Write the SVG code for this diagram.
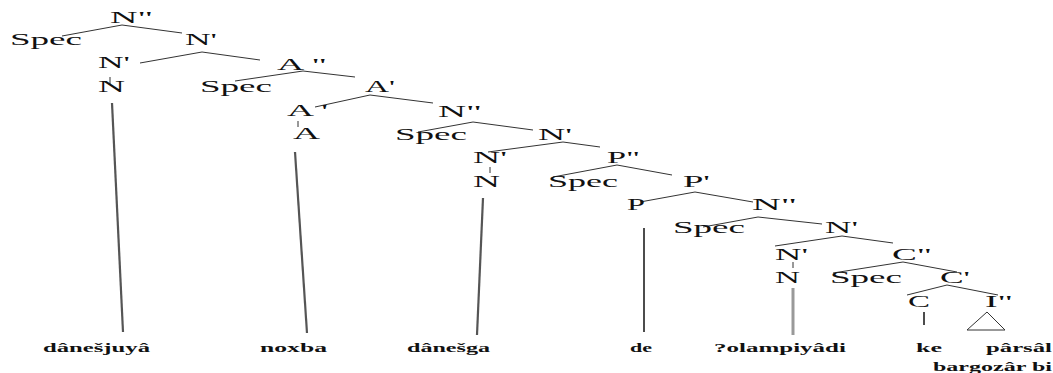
<svg xmlns="http://www.w3.org/2000/svg" width="1053" height="373" viewBox="0 0 1053 373">
<style>
.l{font-family:"Liberation Serif","Times New Roman",serif;font-size:17px;fill:#111}
.w{font-family:"Liberation Serif","Times New Roman",serif;font-size:12px;font-weight:bold;fill:#111}
.e{stroke:#333;stroke-width:1;fill:none}
.v{stroke:#555;stroke-width:2.2;fill:none}
.p{stroke:#111;stroke-width:1.5;fill:none}
.g{stroke:#999;stroke-width:3;fill:none}
</style>
<rect width="1053" height="373" fill="#fff"/>
<g id="connectors">
<polyline class="e" points="62,36 122,25 182,33"/>
<polyline class="e" points="140,63 202,52 260,60"/>
<line class="e" x1="110" y1="77" x2="110" y2="84"/>
<polyline class="e" points="235,81 303,71 355,77"/>
<polyline class="e" points="315,107 370,95 433,103"/>
<line class="e" x1="298" y1="121" x2="298" y2="127" stroke-width="2"/>
<polyline class="e" points="418,132 473,122 533,130"/>
<polyline class="e" points="488,152 563,142 600,147"/>
<line class="e" x1="490" y1="167" x2="490" y2="173"/>
<polyline class="e" points="553,177 617,165 672,175"/>
<polyline class="e" points="640,202 695,192 753,202"/>
<polyline class="e" points="703,227 758,217 822,224"/>
<polyline class="e" points="775,246 842,236 893,243"/>
<line class="e" x1="793" y1="262" x2="793" y2="268"/>
<polyline class="e" points="833,273 903,262 957,272"/>
<polyline class="e" points="907,295 947,285 998,295"/>
<line class="p" x1="924" y1="312" x2="924" y2="325"/>
<polygon class="e" points="987,312 967,330 1005,330"/>
<line class="v" x1="112" y1="103" x2="123" y2="332"/>
<line class="v" x1="295" y1="152" x2="307" y2="333"/>
<line class="v" x1="483" y1="198" x2="477" y2="335"/>
<line class="p" x1="644" y1="228" x2="644" y2="332"/>
<line class="g" x1="793" y1="288" x2="793" y2="335"/>
</g>
<g id="n1"><text class="l" x="110" y="23" textLength="43" lengthAdjust="spacingAndGlyphs">N"</text></g>
<g id="n2"><text class="l" x="10" y="45" textLength="72" lengthAdjust="spacingAndGlyphs">Spec</text></g>
<g id="n3"><text class="l" x="185" y="45" textLength="32" lengthAdjust="spacingAndGlyphs">N'</text></g>
<g id="n4"><text class="l" x="98" y="68" textLength="32" lengthAdjust="spacingAndGlyphs">N'</text></g>
<g id="n5"><text class="l" x="98" y="92" textLength="27" lengthAdjust="spacingAndGlyphs">N</text></g>
<g id="n6"><text class="l" x="277" y="70" textLength="50" lengthAdjust="spacingAndGlyphs">A "</text></g>
<g id="n7"><text class="l" x="200" y="92" textLength="72" lengthAdjust="spacingAndGlyphs">Spec</text></g>
<g id="n8"><text class="l" x="365" y="92" textLength="30" lengthAdjust="spacingAndGlyphs">A'</text></g>
<g id="n9"><text class="l" x="287" y="116" textLength="41" lengthAdjust="spacingAndGlyphs">A '</text></g>
<g id="n10"><text class="l" x="293" y="139" textLength="27" lengthAdjust="spacingAndGlyphs">A</text></g>
<g id="n11"><text class="l" x="438" y="117" textLength="44" lengthAdjust="spacingAndGlyphs">N"</text></g>
<g id="n12"><text class="l" x="395" y="140" textLength="72" lengthAdjust="spacingAndGlyphs">Spec</text></g>
<g id="n13"><text class="l" x="538" y="140" textLength="34" lengthAdjust="spacingAndGlyphs">N'</text></g>
<g id="n14"><text class="l" x="473" y="163" textLength="34" lengthAdjust="spacingAndGlyphs">N'</text></g>
<g id="n15"><text class="l" x="473" y="187" textLength="27" lengthAdjust="spacingAndGlyphs">N</text></g>
<g id="n16"><text class="l" x="607" y="163" textLength="33" lengthAdjust="spacingAndGlyphs">P"</text></g>
<g id="n17"><text class="l" x="548" y="187" textLength="70" lengthAdjust="spacingAndGlyphs">Spec</text></g>
<g id="n18"><text class="l" x="683" y="187" textLength="27" lengthAdjust="spacingAndGlyphs">P'</text></g>
<g id="n19"><text class="l" x="627" y="210" textLength="18" lengthAdjust="spacingAndGlyphs">P</text></g>
<g id="n20"><text class="l" x="752" y="210" textLength="45" lengthAdjust="spacingAndGlyphs">N"</text></g>
<g id="n21"><text class="l" x="673" y="233" textLength="72" lengthAdjust="spacingAndGlyphs">Spec</text></g>
<g id="n22"><text class="l" x="825" y="233" textLength="33" lengthAdjust="spacingAndGlyphs">N'</text></g>
<g id="n23"><text class="l" x="775" y="260" textLength="33" lengthAdjust="spacingAndGlyphs">N'</text></g>
<g id="n24"><text class="l" x="775" y="283" textLength="25" lengthAdjust="spacingAndGlyphs">N</text></g>
<g id="n25"><text class="l" x="892" y="260" textLength="40" lengthAdjust="spacingAndGlyphs">C"</text></g>
<g id="n26"><text class="l" x="830" y="283" textLength="72" lengthAdjust="spacingAndGlyphs">Spec</text></g>
<g id="n27"><text class="l" x="940" y="283" textLength="30" lengthAdjust="spacingAndGlyphs">C'</text></g>
<g id="n28"><text class="l" x="908" y="307" textLength="22" lengthAdjust="spacingAndGlyphs">C</text></g>
<g id="n29"><text class="l" x="985" y="307" textLength="28" lengthAdjust="spacingAndGlyphs">I"</text></g>
<g id="w1"><text class="w" x="43" y="352" textLength="107" lengthAdjust="spacingAndGlyphs">dânešjuyâ</text></g>
<g id="w2"><text class="w" x="260" y="352" textLength="67" lengthAdjust="spacingAndGlyphs">noxba</text></g>
<g id="w3"><text class="w" x="407" y="352" textLength="83" lengthAdjust="spacingAndGlyphs">dânešga</text></g>
<g id="w4"><text class="w" x="630" y="352" textLength="22" lengthAdjust="spacingAndGlyphs">de</text></g>
<g id="w5"><text class="w" x="714" y="352" textLength="132" lengthAdjust="spacingAndGlyphs">?olampiyâdi</text></g>
<g id="w6"><text class="w" x="916" y="352" textLength="26" lengthAdjust="spacingAndGlyphs">ke</text></g>
<g id="w7"><text class="w" x="986" y="352" textLength="66" lengthAdjust="spacingAndGlyphs">pârsâl</text></g>
<g id="w8"><text class="w" x="933" y="371" textLength="119" lengthAdjust="spacingAndGlyphs">bargozâr bi</text></g>
</svg>
